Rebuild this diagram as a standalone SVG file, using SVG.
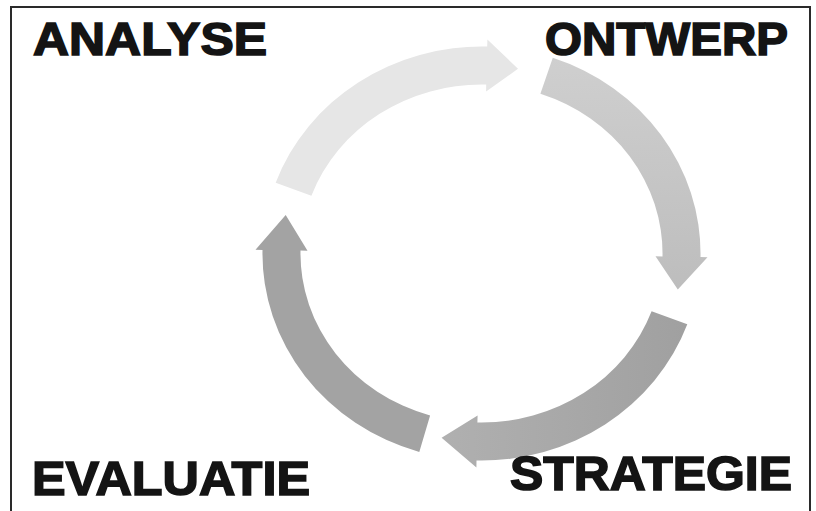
<svg xmlns="http://www.w3.org/2000/svg" width="816" height="511" viewBox="0 0 816 511">
  <style>
    .lbl { font-family: "Liberation Sans", Arial, sans-serif; font-weight: bold; fill: #141414; stroke: #141414; stroke-width: 1.6; stroke-linejoin: miter; }
    .frame { fill: none; stroke: #2a2a2a; stroke-width: 2; }
  </style>
  <defs>
    <linearGradient id="gRight" x1="0" y1="0" x2="0" y2="1">
      <stop offset="0" stop-color="#cfcfcf"/>
      <stop offset="1" stop-color="#bdbdbd"/>
    </linearGradient>
    <linearGradient id="gBottom" x1="1" y1="0" x2="0" y2="0">
      <stop offset="0" stop-color="#a0a0a0"/>
      <stop offset="1" stop-color="#b0b0b0"/>
    </linearGradient>
  </defs>
  <rect x="0" y="0" width="816" height="511" fill="#ffffff"/>
  <path class="frame" d="M11,511 L11,7 L810,7 L810,511"/>

  <g id="connectors">
    <path id="arrow-analyse-ontwerp" fill="#e6e6e6" d="M275.7,182.7 A219,207 0 0 1 487.2,46.6 L487.4,39.6 L518.0,68.7 L486.1,91.6 L486.2,84.6 A181,169 0 0 0 311.4,195.7 Z"/>
    <path id="arrow-ontwerp-strategie" fill="url(#gRight)" d="M552.8,57.8 A219,207 0 0 1 700.5,257.1 L707.5,257.2 L677.8,289.4 L655.5,256.3 L662.5,256.5 A181,169 0 0 0 540.4,93.7 Z"/>
    <path id="arrow-strategie-evaluatie" fill="url(#gBottom)" d="M687.3,324.3 A219,207 0 0 1 476.5,460.5 L476.4,467.4 L441.6,437.7 L477.6,415.5 L477.4,422.5 A181,169 0 0 0 651.6,311.3 Z"/>
    <path id="arrow-evaluatie-analyse" fill="#a3a3a3" d="M419.3,452.0 A219,207 0 0 1 262.5,249.9 L255.5,249.8 L285.7,215.1 L307.5,250.7 L300.5,250.6 A181,169 0 0 0 430.1,415.5 Z"/>
  </g>

  <g id="node-analyse">
    <text class="lbl" x="33" y="55" font-size="46" textLength="234" lengthAdjust="spacingAndGlyphs">ANALYSE</text>
  </g>
  <g id="node-ontwerp">
    <text class="lbl" x="545" y="55" font-size="46" textLength="243" lengthAdjust="spacingAndGlyphs">ONTWERP</text>
  </g>
  <g id="node-strategie">
    <text class="lbl" x="510" y="490" font-size="49" textLength="282" lengthAdjust="spacingAndGlyphs">STRATEGIE</text>
  </g>
  <g id="node-evaluatie">
    <text class="lbl" x="32" y="495" font-size="49" textLength="278" lengthAdjust="spacingAndGlyphs">EVALUATIE</text>
  </g>
</svg>
